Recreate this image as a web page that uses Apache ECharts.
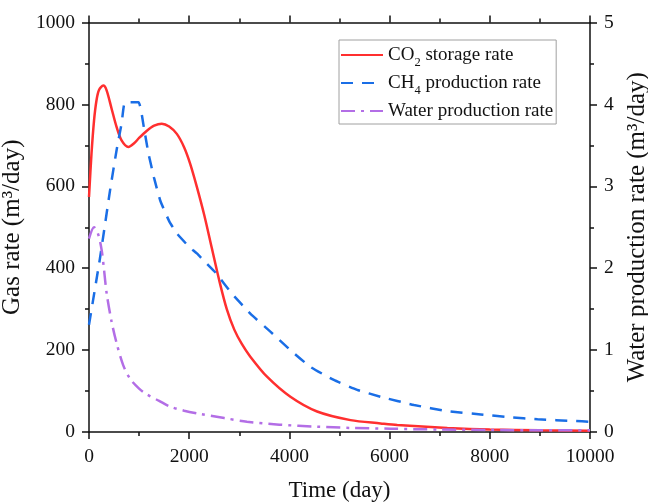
<!DOCTYPE html>
<html>
<head>
<meta charset="utf-8">
<script src="https://cdn.jsdelivr.net/npm/echarts@6/dist/echarts.min.js"></script>
<style>html,body{margin:0;padding:0;background:#fff;}#c{width:648px;height:503px;}</style>
</head>
<body>
<div id="c"></div>
<script>
// ---- data ----
var co2Time = [0, 50, 100, 150, 200, 286, 350, 450, 550, 650, 787, 900, 1000, 1150, 1300, 1453, 1600, 1753, 1900, 2020, 2150, 2300, 2450, 2600, 2750, 2900, 3050, 3220, 3553, 4020, 4553, 5220, 5820, 6153, 7153, 8000, 9000, 10000];
var co2Rate = [574, 680, 760, 810, 835, 846, 835, 790, 745, 712, 696, 705, 718, 735, 748, 753, 746, 728, 695, 655, 600, 530, 450, 370, 300, 250, 215, 184, 135, 86, 50, 29, 21, 17, 10, 6, 4, 3];

var ch4Time = [0, 220, 420, 553, 653, 720, 987, 1100, 1187, 1300, 1420, 1600, 1753, 2000, 2153, 2353, 2520, 2853, 3220, 3620, 4020, 4420, 4887, 5353, 5820, 6487, 7153, 7820, 8387, 8953, 9687, 10000];
var ch4Rate = [262, 425, 590, 690, 755, 805, 805, 740, 680, 620, 566, 515, 485, 452, 436, 411, 390, 338, 289, 245, 200, 159, 127, 103, 86, 66, 51, 43, 36, 31, 27, 25];

var waterTime = [0, 100, 180, 253, 300, 353, 450, 553, 680, 820, 1000, 1153, 1400, 1620, 1900, 2220, 2700, 3153, 3800, 4553, 5200, 6020, 7000, 8000, 9000, 10000];
var waterRate = [2.36, 2.50, 2.42, 2.22, 1.98, 1.69, 1.35, 1.08, 0.82, 0.65, 0.53, 0.46, 0.38, 0.31, 0.26, 0.22, 0.17, 0.126, 0.09, 0.065, 0.05, 0.04, 0.03, 0.025, 0.02, 0.02];

var seriesNames = ['CO2 storage rate', 'CH4 production rate', 'Water production rate'];
var xTicks = {min: 0, max: 10000, interval: 2000};
var gasTicks = {min: 0, max: 1000, interval: 200};
var waterTicks = {min: 0, max: 5, interval: 1};

function zip(a, b) { return a.map(function (v, i) { return [v, b[i]]; }); }

var FONT = '"Liberation Serif", "Times New Roman", serif';
var axisLineStyle = {color: '#111', width: 1.5};

function valueAxisBase(t) {
  return {
    type: 'value', min: t.min, max: t.max, interval: t.interval,
    axisLine: {show: true, onZero: false, lineStyle: axisLineStyle},
    axisTick: {show: true, inside: false, length: 7, lineStyle: {color: '#111', width: 1.5}},
    minorTick: {show: true, splitNumber: 2, length: 4, lineStyle: {color: '#111', width: 1.5}},
    splitLine: {show: false},
    minorSplitLine: {show: false},
    axisLabel: {color: '#111', fontFamily: FONT, fontSize: 19.5, formatter: function (v) { return String(v); }},
    nameTextStyle: {color: '#111', fontFamily: FONT, fontSize: 23}
  };
}

var xBottom = Object.assign(valueAxisBase(xTicks), {
  position: 'bottom', name: 'Time (day)', nameLocation: 'middle', nameGap: 47
});
xBottom.axisLabel = Object.assign({}, xBottom.axisLabel, {margin: 15});
var xTop = Object.assign(valueAxisBase(xTicks), {position: 'top'});
xTop.axisLabel = {show: false};

var yLeft = Object.assign(valueAxisBase(gasTicks), {
  position: 'left', name: 'Gas rate (m³/day)', nameLocation: 'middle', nameGap: 41
});
yLeft.axisLabel = Object.assign({}, yLeft.axisLabel, {margin: 14});
yLeft.nameTextStyle = Object.assign({}, yLeft.nameTextStyle, {fontSize: 25});
var yRight = Object.assign(valueAxisBase(waterTicks), {
  position: 'right', name: 'Water production rate (m³/day)', nameLocation: 'middle', nameGap: 26
});
yRight.axisLabel = Object.assign({}, yRight.axisLabel, {margin: 14});
yRight.nameTextStyle = Object.assign({}, yRight.nameTextStyle, {fontSize: 25});

var richNames = {
  'CO2 storage rate': '{a|CO}{s|2}{a| storage rate}',
  'CH4 production rate': '{a|CH}{s|4}{a| production rate}',
  'Water production rate': '{a|Water production rate}'
};

var chart = echarts.init(document.getElementById('c'), null, {renderer: 'canvas'});
chart.setOption({
  backgroundColor: '#fff',
  animation: false,
  grid: {left: 89, right: 58, top: 22.5, bottom: 71, containLabel: false, outerBoundsMode: 'none'},
  legend: {
    orient: 'vertical', left: 339, top: 40,
    padding: [6, 3, 3, 1],
    borderColor: '#a0a0a0', borderWidth: 1,
    itemWidth: 42, itemHeight: 20, itemGap: 5,
    itemStyle: {opacity: 0},
    data: seriesNames,
    formatter: function (n) { return richNames[n]; },
    textStyle: {
      color: '#111', fontFamily: FONT, fontSize: 19,
      rich: {
        a: {fontFamily: FONT, fontSize: 19, color: '#111', lineHeight: 20, verticalAlign: 'bottom'},
        s: {fontFamily: FONT, fontSize: 12.5, color: '#111', lineHeight: 20, verticalAlign: 'bottom', padding: [0, 0, -4, 0]}
      }
    }
  },
  xAxis: [xBottom, xTop],
  yAxis: [yLeft, yRight],
  series: [
    {
      name: seriesNames[0], type: 'line', xAxisIndex: 0, yAxisIndex: 0,
      data: zip(co2Time, co2Rate), smooth: 0.3, symbol: 'none',
      lineStyle: {color: '#ff2f2f', width: 2.5},
      itemStyle: {color: '#ff2f2f'}
    },
    {
      name: seriesNames[1], type: 'line', xAxisIndex: 0, yAxisIndex: 0,
      data: zip(ch4Time, ch4Rate), smooth: 0.15, symbol: 'none',
      lineStyle: {color: '#1a6ee6', width: 2.5, type: [12, 9]},
      itemStyle: {color: '#1a6ee6'}
    },
    {
      name: seriesNames[2], type: 'line', xAxisIndex: 0, yAxisIndex: 1,
      data: zip(waterTime, waterRate), smooth: 0.3, symbol: 'none',
      lineStyle: {color: '#b36ee6', width: 2.5, type: [14, 6, 3, 6]},
      itemStyle: {color: '#b36ee6'}
    }
  ]
});
</script>
</body>
</html>
